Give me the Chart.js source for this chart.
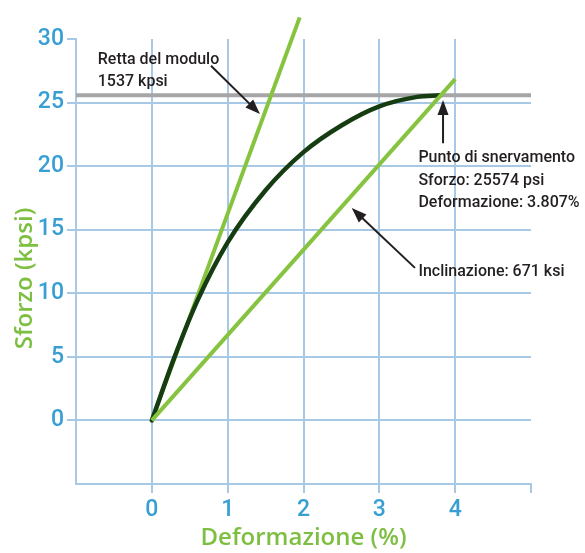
<!DOCTYPE html>
<html><head><meta charset="utf-8">
<script src="https://cdn.jsdelivr.net/npm/chart.js@4/dist/chart.umd.min.js"></script>
<style>html,body{margin:0;padding:0;background:#fff;}#wrap{width:585px;height:553px;}</style>
</head><body><div id="wrap"><canvas id="c" width="585" height="553"></canvas></div>
<script>
// ---- data ----
const curveStrain = [0, 0.3, 0.6, 1.0, 1.5, 2.0, 2.5, 3.0, 3.5, 3.807];
const curveStress = [0, 5.0, 9.4, 14.0, 18.1, 21.1, 23.2, 24.7, 25.45, 25.574];
const modulusStrain = [0, 1.95];
const modulusStress = [0, 31.7];
const slopeStrain = [0, 4.0];
const slopeStress = [0, 26.84];
const yieldStrainRange = [-1, 5];
const yieldStress = [25.574, 25.574];
const xTickLabels = [0, 1, 2, 3, 4];
const yTickLabels = [0, 5, 10, 15, 20, 25, 30];
const xTitle = 'Deformazione (%)';
const yTitle = 'Sforzo (kpsi)';
// annotations: text lines with anchor (strain, stress)
const noteTexts = [
  ['Retta del modulo', -0.713, 28.04],
  ['1537 kpsi', -0.713, 26.3],
  ['Punto di snervamento', 3.515, 20.3],
  ['Sforzo: 25574 psi', 3.515, 18.54],
  ['Deformazione: 3.807%', 3.515, 16.8],
  ['Inclinazione: 671 ksi', 3.515, 11.36]
];
// arrows: [tailX, tailY, tipX, tipY]
const noteArrows = [
  [0.78, 27.9, 1.426, 24.1],
  [3.84, 21.8, 3.84, 25.2],
  [3.47, 12.0, 2.636, 16.7]
];

const zip = (xs, ys) => xs.map((x, i) => ({x: x, y: ys[i]}));

const GRID = '#a7c9e6';
const BLUE = '#379fd3';
const LIME = '#86c440';
const TITLEGREEN = '#7dbf41';
const DARK = '#163c12';
const INK = '#231f20';

const annot = {
  id: 'annot',
  afterDatasetsDraw(chart) {
    const {ctx, scales: {x, y}} = chart;
    ctx.save();
    ctx.fillStyle = INK;
    ctx.strokeStyle = INK;
    ctx.font = '500 17px Roboto, "Liberation Sans", sans-serif';
    ctx.textBaseline = 'alphabetic';
    ctx.textAlign = 'left';
    noteTexts.forEach(([t, sx, sy]) => {
      ctx.save();
      ctx.translate(x.getPixelForValue(sx), y.getPixelForValue(sy));
      ctx.scale(0.94, 1);
      ctx.fillText(t, 0, 0);
      ctx.restore();
    });
    noteArrows.forEach(([ax, ay, bx, by]) => {
      const x0 = x.getPixelForValue(ax), y0 = y.getPixelForValue(ay);
      const x1 = x.getPixelForValue(bx), y1 = y.getPixelForValue(by);
      const ang = Math.atan2(y1 - y0, x1 - x0);
      const L = 15, W = 5.5;
      const hx = x1 - L * Math.cos(ang), hy = y1 - L * Math.sin(ang);
      ctx.lineWidth = 2;
      ctx.beginPath(); ctx.moveTo(x0, y0); ctx.lineTo(hx + 2 * Math.cos(ang), hy + 2 * Math.sin(ang)); ctx.stroke();
      ctx.beginPath();
      ctx.moveTo(x1, y1);
      ctx.lineTo(hx + W * Math.sin(ang), hy - W * Math.cos(ang));
      ctx.lineTo(hx - W * Math.sin(ang), hy + W * Math.cos(ang));
      ctx.closePath(); ctx.fill();
    });
    // y axis title
    ctx.fillStyle = TITLEGREEN;
    ctx.font = '600 24px "Open Sans", sans-serif';
    ctx.textAlign = 'center';
    ctx.textBaseline = 'middle';
    ctx.translate(25, (chart.chartArea.top + chart.chartArea.bottom) / 2 + 17);
    ctx.rotate(-Math.PI / 2);
    ctx.fillText(yTitle, 0, 0);
    ctx.restore();
  }
};

new Chart(document.getElementById('c'), {
  type: 'line',
  data: {
    datasets: [
      {data: zip(slopeStrain, slopeStress), borderColor: LIME, borderWidth: 4, pointRadius: 0, order: 0, borderCapStyle: 'butt'},
      {data: zip(curveStrain, curveStress), borderColor: DARK, borderWidth: 4.5, pointRadius: 0, order: 1, cubicInterpolationMode: 'monotone', borderCapStyle: 'round'},
      {data: zip(modulusStrain, modulusStress), borderColor: LIME, borderWidth: 4, pointRadius: 0, order: 2, clip: false, borderCapStyle: 'butt'},
      {data: zip(yieldStrainRange, yieldStress), borderColor: '#a6a6a8', borderWidth: 4, pointRadius: 0, order: 3}
    ]
  },
  options: {
    responsive: false,
    animation: false,
    devicePixelRatio: 1,
    layout: {padding: {left: 0, top: 39, right: 54, bottom: 0}},
    plugins: {legend: {display: false}, tooltip: {enabled: false}},
    scales: {
      x: {
        type: 'linear', min: -1, max: 5,
        afterFit: s => { s.height = 69; },
        ticks: {
          stepSize: 1, padding: 3, color: BLUE,
          font: {family: '"Liberation Sans Narrow", Roboto, sans-serif', size: 23, weight: '500'},
          callback: v => xTickLabels.includes(v) ? String(v) : ''
        },
        grid: {
          lineWidth: 2, tickLength: 9,
          color: c => (c.tick && c.tick.value === 5) ? 'rgba(0,0,0,0)' : GRID,
          tickColor: c => (c.tick && c.tick.value === -1) ? 'rgba(0,0,0,0)' : GRID
        },
        border: {color: GRID, width: 2},
        title: {display: true, text: xTitle, color: TITLEGREEN, padding: {top: 0, bottom: 0},
          font: {family: '"Open Sans", sans-serif', size: 24, weight: '600'}}
      },
      y: {
        type: 'linear', min: -5, max: 30,
        afterFit: s => { s.width = 76; },
        ticks: {
          stepSize: 5, padding: 3, color: BLUE,
          font: {family: '"Liberation Sans Narrow", Roboto, sans-serif', size: 23, weight: '500'},
          callback: v => yTickLabels.includes(v) ? String(v) : ''
        },
        grid: {
          lineWidth: 2, tickLength: 9,
          color: c => (c.tick && c.tick.value === 30) ? 'rgba(0,0,0,0)' : GRID,
          tickColor: c => (c.tick && c.tick.value === -5) ? 'rgba(0,0,0,0)' : GRID
        },
        border: {color: GRID, width: 2}
      }
    }
  },
  plugins: [annot]
});
</script>
</body></html>
